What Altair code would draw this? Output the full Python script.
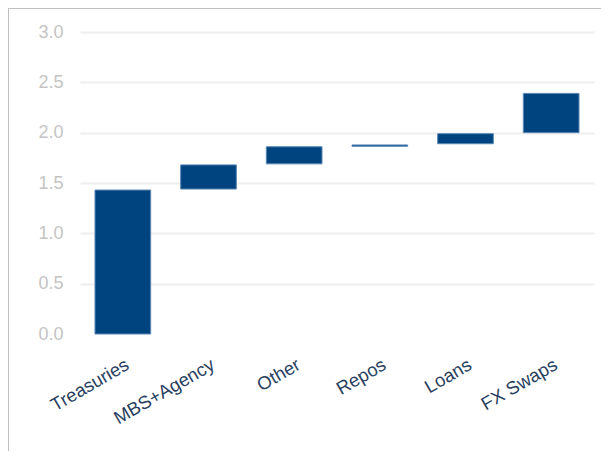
import altair as alt
import pandas as pd

categories = ["Treasuries", "MBS+Agency", "Other", "Repos", "Loans", "FX Swaps"]
bar_start = [0.0, 1.44, 1.69, 1.865, 1.89, 2.00]
bar_end = [1.43, 1.68, 1.86, 1.878, 1.99, 2.39]
y_ticks = [0.0, 0.5, 1.0, 1.5, 2.0, 2.5, 3.0]

df = pd.DataFrame({"category": categories, "start": bar_start, "end": bar_end})

PLOT_W = 514
PLOT_H = 302
PAD = {"left": 72, "top": 24, "right": 7, "bottom": 117}

bars = alt.Chart(df).mark_bar(
    color="#00447f", stroke="#5a87b4", strokeWidth=1
).encode(
    x=alt.X(
        "category:N",
        sort=categories,
        scale=alt.Scale(paddingInner=0.35, paddingOuter=0.175),
        axis=alt.Axis(
            title=None, labelAngle=-30, labelAlign="right", labelBaseline="top",
            labelColor="#2a3f5f", labelFontSize=18.5, labelFont="Liberation Sans",
            labelPadding=21, ticks=False, domain=False, grid=False,
        ),
    ),
    y=alt.Y(
        "start:Q",
        scale=alt.Scale(domain=[0, 3.0], nice=False, zero=True),
        axis=alt.Axis(
            title=None, values=y_ticks, format=".1f",
            labelColor="#c4c4c4", labelFontSize=18, labelFont="Liberation Sans",
            labelPadding=17, ticks=False, domain=False,
            gridColor="#eeeeee", gridWidth=2,
            gridOpacity={"condition": {"test": "datum.value === 0", "value": 0}, "value": 1},
        ),
    ),
    y2="end:Q",
)

frame_top = alt.Chart(df).mark_rule(color="#c0c0c0", strokeWidth=1).encode(
    x=alt.value(-PAD["left"]), x2=alt.value(PLOT_W + PAD["right"]), y=alt.value(-PAD["top"] + 0.5)
)
frame_left = alt.Chart(df).mark_rule(color="#c0c0c0", strokeWidth=1).encode(
    x=alt.value(-PAD["left"] + 0.5), y=alt.value(-PAD["top"]), y2=alt.value(PLOT_H + PAD["bottom"])
)

chart = alt.layer(bars, frame_top, frame_left).properties(
    width=PLOT_W, height=PLOT_H, padding=PAD,
    autosize=alt.AutoSizeParams(type="none"),
).configure_view(stroke=None)

chart.save("out.html", embed_options={"renderer": "svg", "actions": False})
